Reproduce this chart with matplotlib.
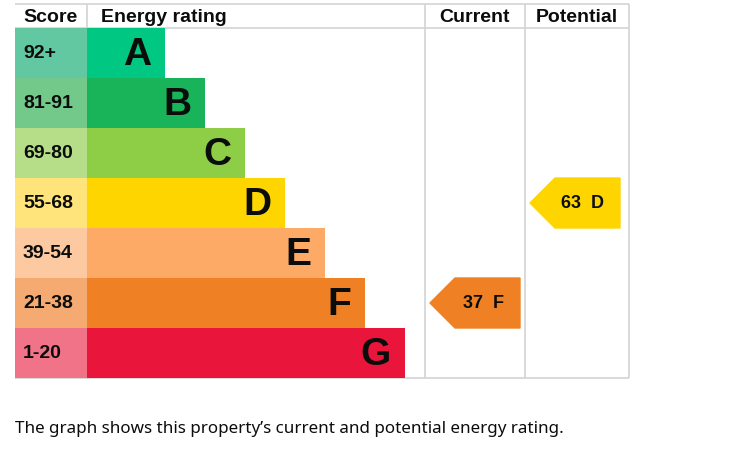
import matplotlib.pyplot as plt
from matplotlib.patches import Polygon

ratings = ["A", "B", "C", "D", "E", "F", "G"]
score_ranges = ["92+", "81-91", "69-80", "55-68", "39-54", "21-38", "1-20"]
bar_colors = ["#00c781", "#19b459", "#8dce46", "#ffd500", "#fcaa65", "#ef8023", "#e9153b"]
score_colors = ["#61c8a2", "#72c98a", "#b6de88", "#fee47a", "#fdc9a0", "#f4aa70", "#f07387"]
current_score, current_band = 37, "F"
potential_score, potential_band = 63, "D"
caption = "The graph shows this property\u2019s current and potential energy rating."

# layout in pixels
LEFT, SCORE_W, BAR0, STEP = 15, 72, 78, 40
TOP, HEAD_H, ROW_H = 4, 24, 50
COL_CUR, COL_POT, RIGHT = 425, 525, 629
GRID = "#d3d3d3"

plt.rcParams["font.family"] = ["Liberation Sans", "DejaVu Sans"]

fig = plt.figure(figsize=(7.44, 4.5), dpi=100)
ax = fig.add_axes([0, 0, 1, 1])
ax.set_xlim(0, 744)
ax.set_ylim(450, 0)
ax.axis("off")

bold = dict(weight="bold", color="#0b0c0c")
y0 = TOP + HEAD_H
bottom = y0 + ROW_H * len(ratings)

# header
hy = TOP + HEAD_H / 2 + 1
ax.text(LEFT + 8, hy, "Score", size=14, va="center", **bold)
ax.text(LEFT + SCORE_W + 14, hy, "Energy rating", size=14, va="center", **bold)
ax.text((COL_CUR + COL_POT) / 2, hy, "Current", size=14, va="center", ha="center", **bold)
ax.text((COL_POT + RIGHT) / 2, hy, "Potential", size=14, va="center", ha="center", **bold)

# grid lines
ax.hlines([TOP, y0, bottom], LEFT, RIGHT, color=GRID, lw=1.2, zorder=1)
ax.vlines([LEFT + SCORE_W], TOP, y0, color=GRID, lw=1.2, zorder=1)
ax.vlines([COL_CUR, COL_POT, RIGHT], TOP, bottom, color=GRID, lw=1.2, zorder=1)

# bands
rows = [y0 + ROW_H * i + ROW_H / 2 for i in range(len(ratings))]
ax.barh(rows, SCORE_W, left=LEFT, height=ROW_H, color=score_colors, zorder=2)
widths = [BAR0 + STEP * i for i in range(len(ratings))]
ax.barh(rows, widths, left=LEFT + SCORE_W, height=ROW_H, color=bar_colors, zorder=2)
for y, s, r, w in zip(rows, score_ranges, ratings, widths):
    ax.text(LEFT + 8, y + 1, s, size=14, va="center", zorder=3, **bold)
    ax.text(LEFT + SCORE_W + w - 14, y + 2, r, size=28, va="center", ha="right", zorder=3, **bold)


def arrow(col_left, band, score):
    i = ratings.index(band)
    top = y0 + ROW_H * i
    tip, head, end = col_left + 5, 25, col_left + 95
    pts = [(tip, top + ROW_H / 2), (tip + head, top), (end, top),
           (end, top + ROW_H), (tip + head, top + ROW_H)]
    ax.add_patch(Polygon(pts, closed=True, color=bar_colors[i], zorder=2))
    ax.text(end - 16, top + ROW_H / 2 + 1, f"{score}  {band}", size=13,
            va="center", ha="right", zorder=3, **bold)


arrow(COL_CUR, current_band, current_score)
arrow(COL_POT, potential_band, potential_score)

ax.text(LEFT, 429, caption, size=12.25, va="center", family="Noto Sans", color="#0b0c0c")

fig.savefig("out.png", dpi=100)
